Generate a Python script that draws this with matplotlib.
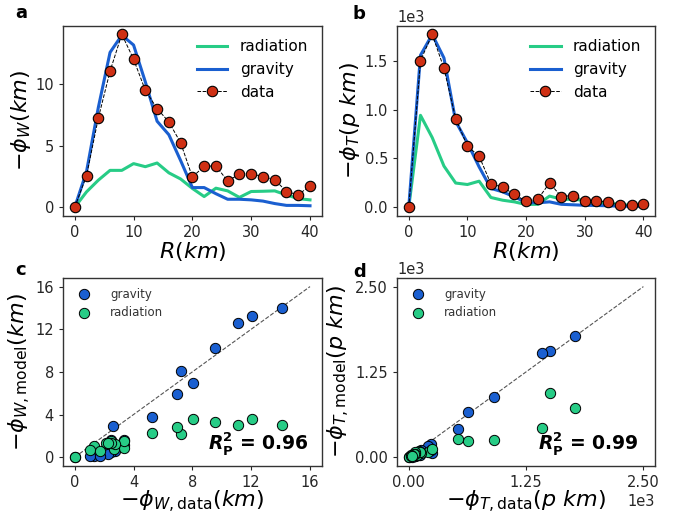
import matplotlib
matplotlib.use("Agg")
import matplotlib.pyplot as plt

# distance bins (km)
R = [0, 2, 4, 6, 8, 10, 12, 14, 16, 18, 20, 22, 24, 26, 28, 30, 32, 34, 36, 38, 40]

# panel a: -phi_W (km)
phiW_data = [0, 2.57, 7.24, 11.07, 14.07, 12.05, 9.51, 8.03, 6.94, 5.25, 2.46,
             3.33, 3.36, 2.13, 2.70, 2.73, 2.49, 2.24, 1.28, 1.01, 1.75]
phiW_gravity = [0, 2.9, 8.1, 12.6, 14.0, 13.2, 10.2, 7.0, 5.9, 3.8, 1.6,
                1.6, 1.1, 0.65, 0.65, 0.6, 0.5, 0.3, 0.15, 0.15, 0.12]
phiW_radiation = [0, 1.25, 2.2, 3.0, 3.0, 3.55, 3.3, 3.6, 2.8, 2.3, 1.53,
                  0.87, 1.55, 1.33, 0.8, 1.28, 1.3, 1.33, 1.0, 0.7, 0.6]

# panel b: -phi_T (p km)
phiT_data = [0, 1503, 1772, 1424, 908, 626, 523, 241, 206, 131, 62,
             83, 248, 110, 120, 69, 69, 52, 21, 21, 34]
phiT_gravity = [0, 1558, 1770, 1530, 880, 660, 413, 193, 158, 107, 48,
                45, 55, 30, 25, 20, 18, 15, 10, 10, 8]
phiT_radiation = [0, 942, 714, 422, 248, 233, 267, 100, 72, 55, 28,
                  30, 114, 83, 80, 72, 50, 45, 28, 20, 14]

c_green = '#27cc86'
c_blue = '#1a5fd0'
c_red = '#cf3014'
tick_col = '#262626'

plt.rcParams['font.family'] = 'DejaVu Sans'
plt.rcParams['mathtext.fontset'] = 'dejavusans'

fig = plt.figure(figsize=(6.81, 5.14), dpi=100)
ax_a = fig.add_axes([0.0925, 0.580, 0.380, 0.370])
ax_b = fig.add_axes([0.583, 0.580, 0.379, 0.370])
ax_c = fig.add_axes([0.0925, 0.094, 0.380, 0.365])
ax_d = fig.add_axes([0.583, 0.094, 0.379, 0.365])

for ax in (ax_a, ax_b, ax_c, ax_d):
    for sp in ax.spines.values():
        sp.set_color('#333333')
        sp.set_linewidth(1.0)
    ax.tick_params(labelsize=10.5, colors=tick_col, length=3, width=0.8)

# top row: profiles
for ax, dat, grav, rad in ((ax_a, phiW_data, phiW_gravity, phiW_radiation),
                           (ax_b, phiT_data, phiT_gravity, phiT_radiation)):
    ax.plot(R, rad, color=c_green, lw=2.2, label='radiation')
    ax.plot(R, grav, color=c_blue, lw=2.2, label='gravity')
    ax.plot(R, dat, color='black', ls='--', lw=0.7, marker='o', ms=7.5,
            mfc=c_red, mec='black', mew=0.8, label='data')
    ax.set_xticks([0, 10, 20, 30, 40])
    ax.set_xlabel(r'$R(km)$', fontsize=16, labelpad=0)
    ax.legend(loc='upper right', frameon=False, fontsize=11, handlelength=2.0)

ax_a.set_yticks([0, 5, 10])
ax_a.set_ylabel(r'$-\phi_W(km)$', fontsize=16, labelpad=2)
ax_b.set_yticks([0, 500, 1000, 1500])
ax_b.ticklabel_format(axis='y', style='sci', scilimits=(3, 3))
ax_b.yaxis.get_offset_text().set_fontsize(10.5)
ax_b.set_ylabel(r'$-\phi_T(p\ km)$', fontsize=16, labelpad=2)

# bottom row: model vs data
ax_c.plot([0, 16], [0, 16], color='#555555', ls='--', lw=0.8)
ax_c.scatter(phiW_data, phiW_gravity, s=55, color=c_blue, edgecolor='black',
             linewidth=0.7, label='gravity', zorder=3)
ax_c.scatter(phiW_data, phiW_radiation, s=55, color=c_green, edgecolor='black',
             linewidth=0.7, label='radiation', zorder=3)
ax_c.set_xticks([0, 4, 8, 12, 16])
ax_c.set_yticks([0, 4, 8, 12, 16])
ax_c.set_xlabel(r'$-\phi_{W,\mathrm{data}}(km)$', fontsize=16, labelpad=-1)
ax_c.set_ylabel(r'$-\phi_{W,\mathrm{model}}(km)$', fontsize=16, labelpad=2)
ax_c.text(0.95, 0.085, r'$\boldsymbol{R}_{\mathbf{P}}^{\mathbf{2}}$ = 0.96',
          transform=ax_c.transAxes, ha='right', va='baseline',
          fontsize=13.5, fontweight='bold')

ax_d.plot([0, 2500], [0, 2500], color='#555555', ls='--', lw=0.8)
ax_d.scatter(phiT_data, phiT_gravity, s=55, color=c_blue, edgecolor='black',
             linewidth=0.7, label='gravity', zorder=3)
ax_d.scatter(phiT_data, phiT_radiation, s=55, color=c_green, edgecolor='black',
             linewidth=0.7, label='radiation', zorder=3)
ax_d.set_xticks([0, 1250, 2500])
ax_d.set_yticks([0, 1250, 2500])
ax_d.ticklabel_format(axis='both', style='sci', scilimits=(3, 3))
ax_d.xaxis.get_offset_text().set_fontsize(10.5)
ax_d.yaxis.get_offset_text().set_fontsize(10.5)
ax_d.set_xlabel(r'$-\phi_{T,\mathrm{data}}(p\ km)$', fontsize=16, labelpad=-1)
ax_d.set_ylabel(r'$-\phi_{T,\mathrm{model}}(p\ km)$', fontsize=16, labelpad=2)
ax_d.text(0.938, 0.085, r'$\boldsymbol{R}_{\mathbf{P}}^{\mathbf{2}}$ = 0.99',
          transform=ax_d.transAxes, ha='right', va='baseline',
          fontsize=13.5, fontweight='bold')

for ax in (ax_c, ax_d):
    ax.legend(loc='upper left', frameon=False, fontsize=8.5, labelcolor='#333333',
              handletextpad=1.2, borderaxespad=0.4)

# panel letters
for lab, x, y in (('a', 15, 18), ('b', 353, 19), ('c', 15, 275), ('d', 353, 277)):
    fig.text(x / 681, 1 - y / 514, lab, fontsize=13, fontweight='bold', va='baseline')

fig.savefig('out.png', dpi=100)
